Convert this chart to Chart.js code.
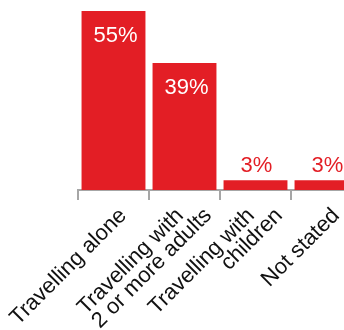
<!DOCTYPE html>
<html>
<head>
<meta charset="utf-8">
<script src="https://cdn.jsdelivr.net/npm/chart.js@4/dist/chart.umd.min.js"></script>
<style>
html,body{margin:0;padding:0;background:#fff;overflow:hidden;width:344px;height:330px;}
canvas{display:block;}
</style>
</head>
<body>
<canvas id="c" width="362" height="330"></canvas>
<script>
const categories = [["Travelling alone"], ["Travelling with", "2 or more adults"], ["Travelling with", "children"], ["Not stated"]];
const values = [55, 39, 3, 3];
const valueLabels = ["55%", "39%", "3%", "3%"];

const RED = "rgb(227,30,37)";
const GREY = "#a6a6a6";
const FONT = '"Liberation Sans", Arial, Helvetica, sans-serif';

const valuePlugin = {
  id: "valueLabels",
  afterDatasetsDraw(chart) {
    const ctx = chart.ctx;
    const meta = chart.getDatasetMeta(0);
    ctx.save();
    ctx.font = "22px " + FONT;
    ctx.textAlign = "center";
    ctx.textBaseline = "middle";
    meta.data.forEach((bar, i) => {
      const v = chart.data.datasets[0].data[i];
      if (v >= 10) {
        ctx.fillStyle = "#ffffff";
        ctx.fillText(valueLabels[i], bar.x + 2, bar.y + 25);
      } else {
        ctx.fillStyle = RED;
        ctx.fillText(valueLabels[i], bar.x + 1, bar.y - 14);
      }
    });
    ctx.restore();
  }
};

const catLabelPlugin = {
  id: "catLabels",
  afterDraw(chart) {
    const ctx = chart.ctx;
    const xs = chart.scales.x;
    const yBase = xs.top + 26.5;
    ctx.save();
    ctx.font = "22px " + FONT;
    ctx.fillStyle = "#111111";
    ctx.textAlign = "right";
    ctx.textBaseline = "alphabetic";
    chart.data.labels.forEach((lines, i) => {
      const cx = xs.getPixelForValue(i);
      const n = lines.length;
      lines.forEach((line, j) => {
        const x = cx + 14 + (j - (n - 1) / 2) * 28;
        ctx.save();
        ctx.translate(x, yBase);
        ctx.rotate(-Math.PI / 4);
        ctx.fillText(line, 0, 0);
        ctx.restore();
      });
    });
    ctx.restore();
  }
};

new Chart(document.getElementById("c"), {
  type: "bar",
  data: {
    labels: categories,
    datasets: [{
      data: values,
      backgroundColor: RED,
      borderWidth: 0,
      barPercentage: 0.9,
      categoryPercentage: 1.0
    }]
  },
  options: {
    responsive: false,
    animation: false,
    devicePixelRatio: 1,
    layout: { padding: { left: 78, right: 0, top: 11, bottom: 0 } },
    plugins: { legend: { display: false }, tooltip: { enabled: false } },
    scales: {
      y: { display: false, min: 0, max: 55 },
      x: {
        afterFit(scale) { scale.height = 140; },
        border: { display: true, color: GREY, width: 2 },
        grid: {
          display: true,
          offset: true,
          drawOnChartArea: false,
          drawTicks: true,
          tickLength: 10,
          color: GREY,
          lineWidth: 2
        },
        ticks: { display: false }
      }
    }
  },
  plugins: [valuePlugin, catLabelPlugin]
});
</script>
</body>
</html>
